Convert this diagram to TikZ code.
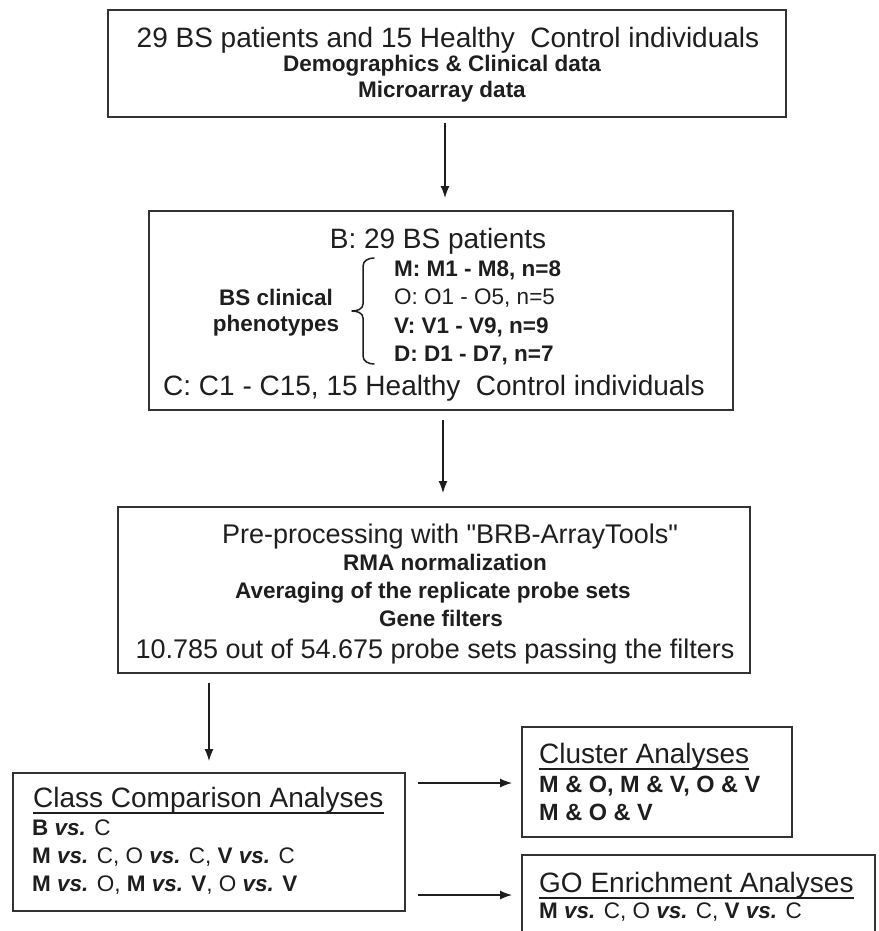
\documentclass[tikz,border=0pt]{standalone}
\usepackage{fontspec}
\setmainfont{Liberation Sans}[Ligatures=TeXOff]
\usetikzlibrary{arrows.meta,calc}
\definecolor{ink}{HTML}{1E1E1E}
\definecolor{edge}{HTML}{333333}
\newcommand{\myvs}{\textbf{\textit{vs.}}}
\newcommand{\bigsz}{\fontsize{28}{32}\selectfont}
\newcommand{\midsz}{\fontsize{27}{32}\selectfont}
\newcommand{\headsz}{\fontsize{28}{32}\selectfont}
\newcommand{\bsz}{\fontsize{22.5}{26}\selectfont}
\newcommand{\csz}{\fontsize{23.5}{26}\selectfont}
\tikzset{
  box/.style={draw=edge, line width=1.8pt, rectangle, inner sep=0pt},
  txt/.style={inner sep=0pt, text=ink, anchor=base},
  ltxt/.style={inner sep=0pt, text=ink, anchor=base west},
  arr/.style={draw=ink, line width=1.5pt, -{Latex[length=12pt,width=9pt]}},
  brace/.style={draw=ink, line width=1.5pt, line cap=round, line join=round},
  uline/.style={draw=ink, line width=1.2pt}
}
\begin{document}
\begin{tikzpicture}[x=1pt,y=-1pt]
\useasboundingbox (0,0) rectangle (878,931);
% boxes
\node[box, minimum width=678pt, minimum height=107pt] (b1) at (447,63.5) {};
\node[box, minimum width=584pt, minimum height=199pt] (b2) at (441,310.5) {};
\node[box, minimum width=632pt, minimum height=166pt] (b3) at (434,590) {};
\node[box, minimum width=392pt, minimum height=138pt] (b4) at (209,842) {};
\node[box, minimum width=270pt, minimum height=110pt] (b5) at (657,782) {};
\node[box, minimum width=353pt, minimum height=105pt] (b6) at (698.5,907.5) {};
% box 1 text
\node[txt] (t1a) at (448,47.5) {\bigsz 29 BS patients and 15 Healthy\ \ Control individuals};
\node[txt] (t1b) at (442,72) {\bsz\bfseries Demographics \& Clinical data};
\node[txt] (t1c) at (442,98) {\bsz\bfseries Microarray data};
% box 2 text
\node[txt] (t2a) at (438,248) {\bigsz B: 29 BS patients};
\node[txt] (t2b) at (276,305) {\bsz\bfseries BS clinical};
\node[txt] (t2c) at (276,331) {\bsz\bfseries phenotypes};
\node[ltxt] (t2m) at (394,276) {\bsz\bfseries M: M1 - M8, n=8};
\node[ltxt] (t2o) at (394,304.5) {\bsz O: O1 - O5, n=5};
\node[ltxt] (t2v) at (394,333) {\bsz\bfseries V: V1 - V9, n=9};
\node[ltxt] (t2d) at (394,361.5) {\bsz\bfseries D: D1 - D7, n=7};
\node[txt] (t2e) at (434,395) {\bigsz C: C1 - C15, 15 Healthy\ \ Control individuals};
\draw[brace] (374,258) to[out=180,in=90] (363,266) -- (363,304)
  to[out=-90,in=0] (352,311) to[out=0,in=90] (363,318) -- (363,356)
  to[out=-90,in=180] (374,364);
% box 3 text
\node[txt] (t3a) at (450,543) {\midsz Pre-processing with "BRB-ArrayTools"};
\node[txt] (t3b) at (445,570) {\bsz\bfseries RMA normalization};
\node[txt] (t3c) at (433,598) {\bsz\bfseries Averaging of the replicate probe sets};
\node[txt] (t3d) at (441,626) {\bsz\bfseries Gene filters};
\node[txt] (t3e) at (435,658) {\midsz 10.785 out of 54.675 probe sets passing the filters};
% box 4 text
\node[ltxt] (t4h) at (33,807) {\headsz Class Comparison Analyses};
\draw[uline] ($(t4h.base west)+(0,6)$) -- ($(t4h.base east)+(0,6)$);
\node[ltxt] (t4a) at (32,835) {\bsz\textbf{B} \myvs{} C};
\node[ltxt] (t4b) at (32,863) {\bsz\textbf{M} \myvs{} C, O \myvs{} C, \textbf{V} \myvs{} C};
\node[ltxt] (t4c) at (32,891) {\bsz\textbf{M} \myvs{} O, \textbf{M} \myvs{} \textbf{V}, O \myvs{} \textbf{V}};
% box 5 text
\node[ltxt] (t5h) at (539,763) {\headsz Cluster Analyses};
\draw[uline] ($(t5h.base west)+(0,6)$) -- ($(t5h.base east)+(0,6)$);
\node[ltxt] (t5a) at (539,792) {\csz\bfseries M \& O, M \& V, O \& V};
\node[ltxt] (t5b) at (539,820) {\csz\bfseries M \& O \& V};
% box 6 text
\node[ltxt] (t6h) at (539,892) {\headsz GO Enrichment Analyses};
\draw[uline] ($(t6h.base west)+(0,6)$) -- ($(t6h.base east)+(0,6)$);
\node[ltxt] (t6a) at (539,918) {\bsz\textbf{M} \myvs{} C, O \myvs{} C, \textbf{V} \myvs{} C};
% connectors
\draw[arr, shorten <=5pt, shorten >=12pt] ([xshift=-2pt]b1.south) -- ([xshift=-2pt]b1.south |- b2.north);
\draw[arr, shorten <=9pt, shorten >=13pt] ([xshift=2pt]b2.south) -- ([xshift=2pt]b2.south |- b3.north);
\draw[arr, shorten <=9pt, shorten >=11pt] (b4.north |- b3.south) -- (b4.north);
\coordinate (h1) at (418,783);
\coordinate (h2) at (418,895);
\draw[arr, shorten >=9pt] (h1) -- (h1 -| b5.west);
\draw[arr, shorten >=9pt] (h2) -- (h2 -| b6.west);
\end{tikzpicture}
\end{document}
